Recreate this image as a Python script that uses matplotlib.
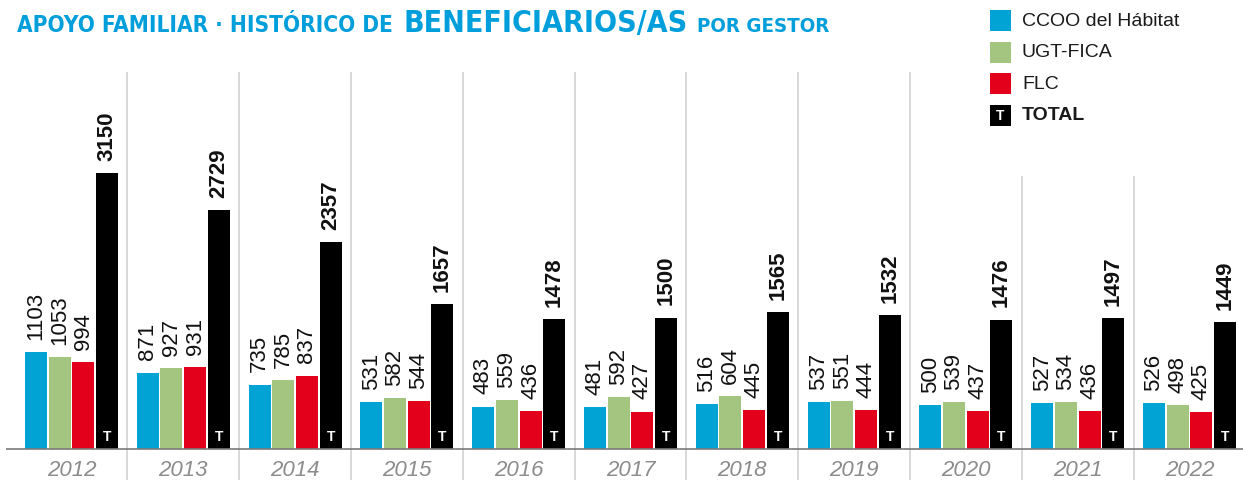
import numpy as np
import matplotlib
matplotlib.use("Agg")
import matplotlib.pyplot as plt
from matplotlib import font_manager as fm
from matplotlib.patches import Rectangle

# ---------------- data ----------------
years = ["2012", "2013", "2014", "2015", "2016", "2017", "2018", "2019", "2020", "2021", "2022"]
ccoo = [1103, 871, 735, 531, 483, 481, 516, 537, 500, 527, 526]
ugt = [1053, 927, 785, 582, 559, 592, 604, 551, 539, 534, 498]
flc = [994, 931, 837, 544, 436, 427, 445, 444, 437, 436, 425]
total = [3150, 2729, 2357, 1657, 1478, 1500, 1565, 1532, 1476, 1497, 1449]
series_names = ["CCOO del Hábitat", "UGT-FICA", "FLC", "TOTAL"]
colors = ["#00a3d4", "#a3c57f", "#e2001a", "#000000"]
title_parts = ["APOYO FAMILIAR · HISTÓRICO DE ", "BENEFICIARIOS/AS", " POR GESTOR"]

# ---------------- fonts ----------------
def find_condensed_bold():
    prefs = ["LiberationSansNarrow-Bold", "DejaVuSansCondensed-Bold", "RobotoCondensed-Bold",
             "OpenSansCondensed-Bold", "OpenSans_Condensed-Bold"]
    files = [f.fname for f in fm.fontManager.ttflist]
    for p in prefs:
        for f in files:
            if p.lower() in f.replace(" ", "").lower():
                return fm.FontProperties(fname=f)
    return fm.FontProperties(family="Liberation Sans", weight="bold")

cond_bold = find_condensed_bold()
plt.rcParams["font.family"] = ["Liberation Sans", "DejaVu Sans"]

W, H = 1243, 481
fig = plt.figure(figsize=(W / 100, H / 100), dpi=100)
fig.patch.set_facecolor("white")

def fx(px):
    return px / W

def fy(py):
    return 1 - py / H

# axes covering the whole figure, mapped to pixel layout
ax = fig.add_axes([0, 0, 1, 1])
ax.set_axis_off()
pitch_px = 111.8
x0_px = 71.5
base_px = 450
scale = 276 / 3150  # px per unit
ax.set_xlim(-x0_px / pitch_px, (W - x0_px) / pitch_px)
ax.set_ylim(-(H - base_px) / scale, base_px / scale)

def yval(py):
    return (base_px - py) / scale

def xval(px):
    return (px - x0_px) / pitch_px

x = np.arange(len(years))
bw = 22 / pitch_px
step = 23.7 / pitch_px
offsets = np.array([-1.5, -0.5, 0.5, 1.5]) * step
all_series = [ccoo, ugt, flc, total]

# separators
for i in range(len(years) - 1):
    sx = i + 0.5
    top = yval(177) if i >= 8 else yval(73)
    ax.plot([sx, sx], [yval(H), top], color="#d2d2d2", lw=1.2, solid_capstyle="butt", zorder=1)

# baseline
ax.plot([xval(6), xval(W)], [0, 0], color="#7a7a7a", lw=1.2, zorder=3, solid_capstyle="butt")

for k, (vals, col) in enumerate(zip(all_series, colors)):
    bars = ax.bar(x + offsets[k], vals, width=bw, color=col, zorder=2, linewidth=0)
    for xi, v in zip(x + offsets[k], vals):
        ax.annotate(str(v), (xi, v), xytext=(0, 9.5), textcoords="offset points",
                    rotation=90, ha="center", va="bottom", fontsize=16,
                    fontweight="bold" if k == 3 else "normal", color="#111111")
        if k == 3:
            ax.annotate("T", (xi, 0), xytext=(0, 9.5), textcoords="offset points",
                        ha="center", va="center", fontsize=10, fontweight="bold",
                        color="white", zorder=4)

# year labels
for xi, yr in zip(x, years):
    ax.text(xi, yval(471), yr, ha="center", va="center", fontsize=16, style="italic",
            color="#8c8c8c")

# ---------------- title ----------------
renderer = fig.canvas.get_renderer()
title_color = "#009fdc"
targets = [(17, 395, 15), (403, 688, 21), (697, 830, 15)]
for txt, (xs, xe, capx) in zip(title_parts, targets):
    t = fig.text(fx(xs), fy(32), txt.strip(), fontproperties=cond_bold, fontsize=14,
                 color=title_color, ha="left", va="baseline")
    wpx = t.get_window_extent(renderer).width
    t.set_fontsize(14 * (xe - xs) / wpx)

# ---------------- legend ----------------
leg_y = [21, 53, 84.5, 116]
sq = 21
for name, col, yc, k in zip(series_names, colors, leg_y, range(4)):
    fig.add_artist(Rectangle((fx(990), fy(yc + sq / 2)), sq / W, sq / H,
                             transform=fig.transFigure, facecolor=col, edgecolor="none"))
    if k == 3:
        fig.text(fx(990 + sq / 2), fy(yc), "T", ha="center", va="center", fontsize=10,
                 fontweight="bold", color="white")
    fig.text(fx(1022), fy(yc), name, ha="left", va="center", fontsize=14,
             fontweight="bold" if k == 3 else "normal", color="#1a1a1a")

fig.savefig("out.png", dpi=100, facecolor="white")
